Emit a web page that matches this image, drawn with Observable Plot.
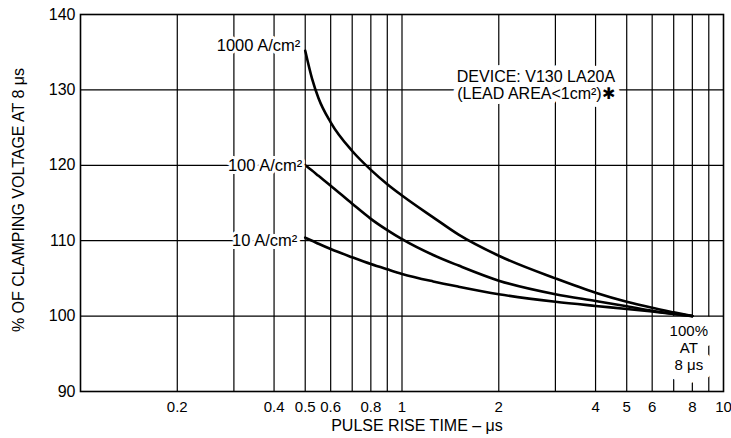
<!DOCTYPE html>
<html>
<head>
<meta charset="utf-8">
<script src="https://cdn.jsdelivr.net/npm/d3@7"></script>
<script src="https://cdn.jsdelivr.net/npm/@observablehq/plot@0.6"></script>
<style>
  html, body { margin: 0; padding: 0; background: #fff; }
  #chart svg { display: block; }
</style>
</head>
<body>
<div id="chart"></div>
<script>
// ---- data ----
const riseTime = [0.5, 0.525, 0.55, 0.6, 0.7, 0.8, 0.9, 1, 1.25, 1.5, 2, 3, 4, 5, 6, 7, 8];
const pct1000  = [135.2, 131.5, 128.9, 125.7, 121.9, 119.4, 117.5, 116.0, 113.1, 110.8, 108.0, 105.0, 103.1, 101.9, 101.1, 100.5, 100];
const pct100   = [120.0, 119.3, 118.6, 117.3, 114.9, 112.9, 111.4, 110.2, 108.1, 106.7, 104.7, 102.9, 102.0, 101.3, 100.7, 100.3, 100];
const pct10    = [110.4, 110.0, 109.6, 108.9, 107.8, 106.9, 106.2, 105.6, 104.6, 103.9, 102.9, 101.9, 101.35, 100.95, 100.6, 100.3, 100];
const seriesNames = ["1000 A/cm²", "100 A/cm²", "10 A/cm²"];

const xTicks = [0.2, 0.4, 0.5, 0.6, 0.8, 1, 2, 4, 5, 6, 8, 10];
const xGrid  = [0.2, 0.3, 0.4, 0.5, 0.6, 0.7, 0.8, 0.9, 1, 2, 3, 4, 5, 6, 7, 8, 9];
const yTicks = [90, 100, 110, 120, 130, 140];
const yGrid  = [100, 110, 120, 130];

const xLabel = "PULSE RISE TIME – μs";
const yLabel = "% OF CLAMPING VOLTAGE AT 8 μs";

// annotations (data coordinates)
const curveLabels = [
  {x: 0.5, y: 135.9, text: seriesNames[0], dx: -5},
  {x: 0.5, y: 120.0, text: seriesNames[1], dx: -3},
  {x: 0.5, y: 110.0, text: seriesNames[2], dx: -8}
];
const deviceNote = [{x: 2.61, y: 130.6, text: "DEVICE: V130 LA20A\n(LEAD AREA<1cm²)✱"}];
const refNote = [{x: 7.8, y: 95.8, text: "100%\nAT\n8 μs"}];

// ---- build table ----
const table = [];
[pct1000, pct100, pct10].forEach((vals, i) => {
  vals.forEach((v, j) => table.push({series: seriesNames[i], t: riseTime[j], v}));
});

const font = "'Liberation Sans', Arial, sans-serif";

// text with a white knock-out drawn as a separate layer underneath
function haloText(data, opts, width) {
  return [
    Plot.text(data, {...opts, fill: "white", stroke: "white", strokeWidth: width, strokeLinejoin: "round"}),
    Plot.text(data, {...opts, fill: "black"})
  ];
}

const chart = Plot.plot({
  width: 731,
  height: 438,
  marginLeft: 80,
  marginRight: 8,
  marginTop: 14,
  marginBottom: 47,
  style: {fontFamily: font, fontSize: "14px", color: "black", background: "white"},
  x: {type: "log", domain: [0.1, 10], axis: null},
  y: {domain: [90, 140], axis: null},
  marks: [
    Plot.ruleX(xGrid, {stroke: "black", strokeWidth: 1.2}),
    ...haloText(refNote, {x: "x", y: "y", text: "text", fontSize: 15, lineHeight: 1.14, letterSpacing: 0.8}, 20),
    Plot.ruleY(yGrid, {stroke: "black", strokeWidth: 1.2}),
    Plot.frame({stroke: "black", strokeWidth: 1.6}),
    Plot.line(table, {x: "t", y: "v", z: "series", stroke: "black", strokeWidth: 2.6, curve: "monotone-x"}),
    ...curveLabels.flatMap(d => haloText([d], {x: "x", y: "y", text: "text", textAnchor: "end", dx: d.dx,
      fontSize: 16.5, letterSpacing: 1}, 6)),
    ...haloText(deviceNote, {x: "x", y: "y", text: "text", fontSize: 16, lineHeight: 1.07, letterSpacing: 0.4}, 10),
    Plot.text(xTicks, {x: d => d, text: d => String(d), frameAnchor: "bottom", lineAnchor: "top", dy: 10,
      fontSize: 15, letterSpacing: 0.3}),
    Plot.axisY({ticks: yTicks, tickSize: 0, tickPadding: 5, label: null, fontSize: 16}),
    Plot.text([xLabel], {frameAnchor: "bottom", lineAnchor: "top", textAnchor: "middle", dy: 28, dx: 15,
      fontSize: 16, letterSpacing: 1.2}),
    Plot.text([yLabel], {frameAnchor: "left", textAnchor: "middle", rotate: -90, dx: -62, dy: -3,
      fontSize: 16, letterSpacing: 0.3})
  ]
});
document.getElementById("chart").appendChild(chart);
</script>
</body>
</html>
